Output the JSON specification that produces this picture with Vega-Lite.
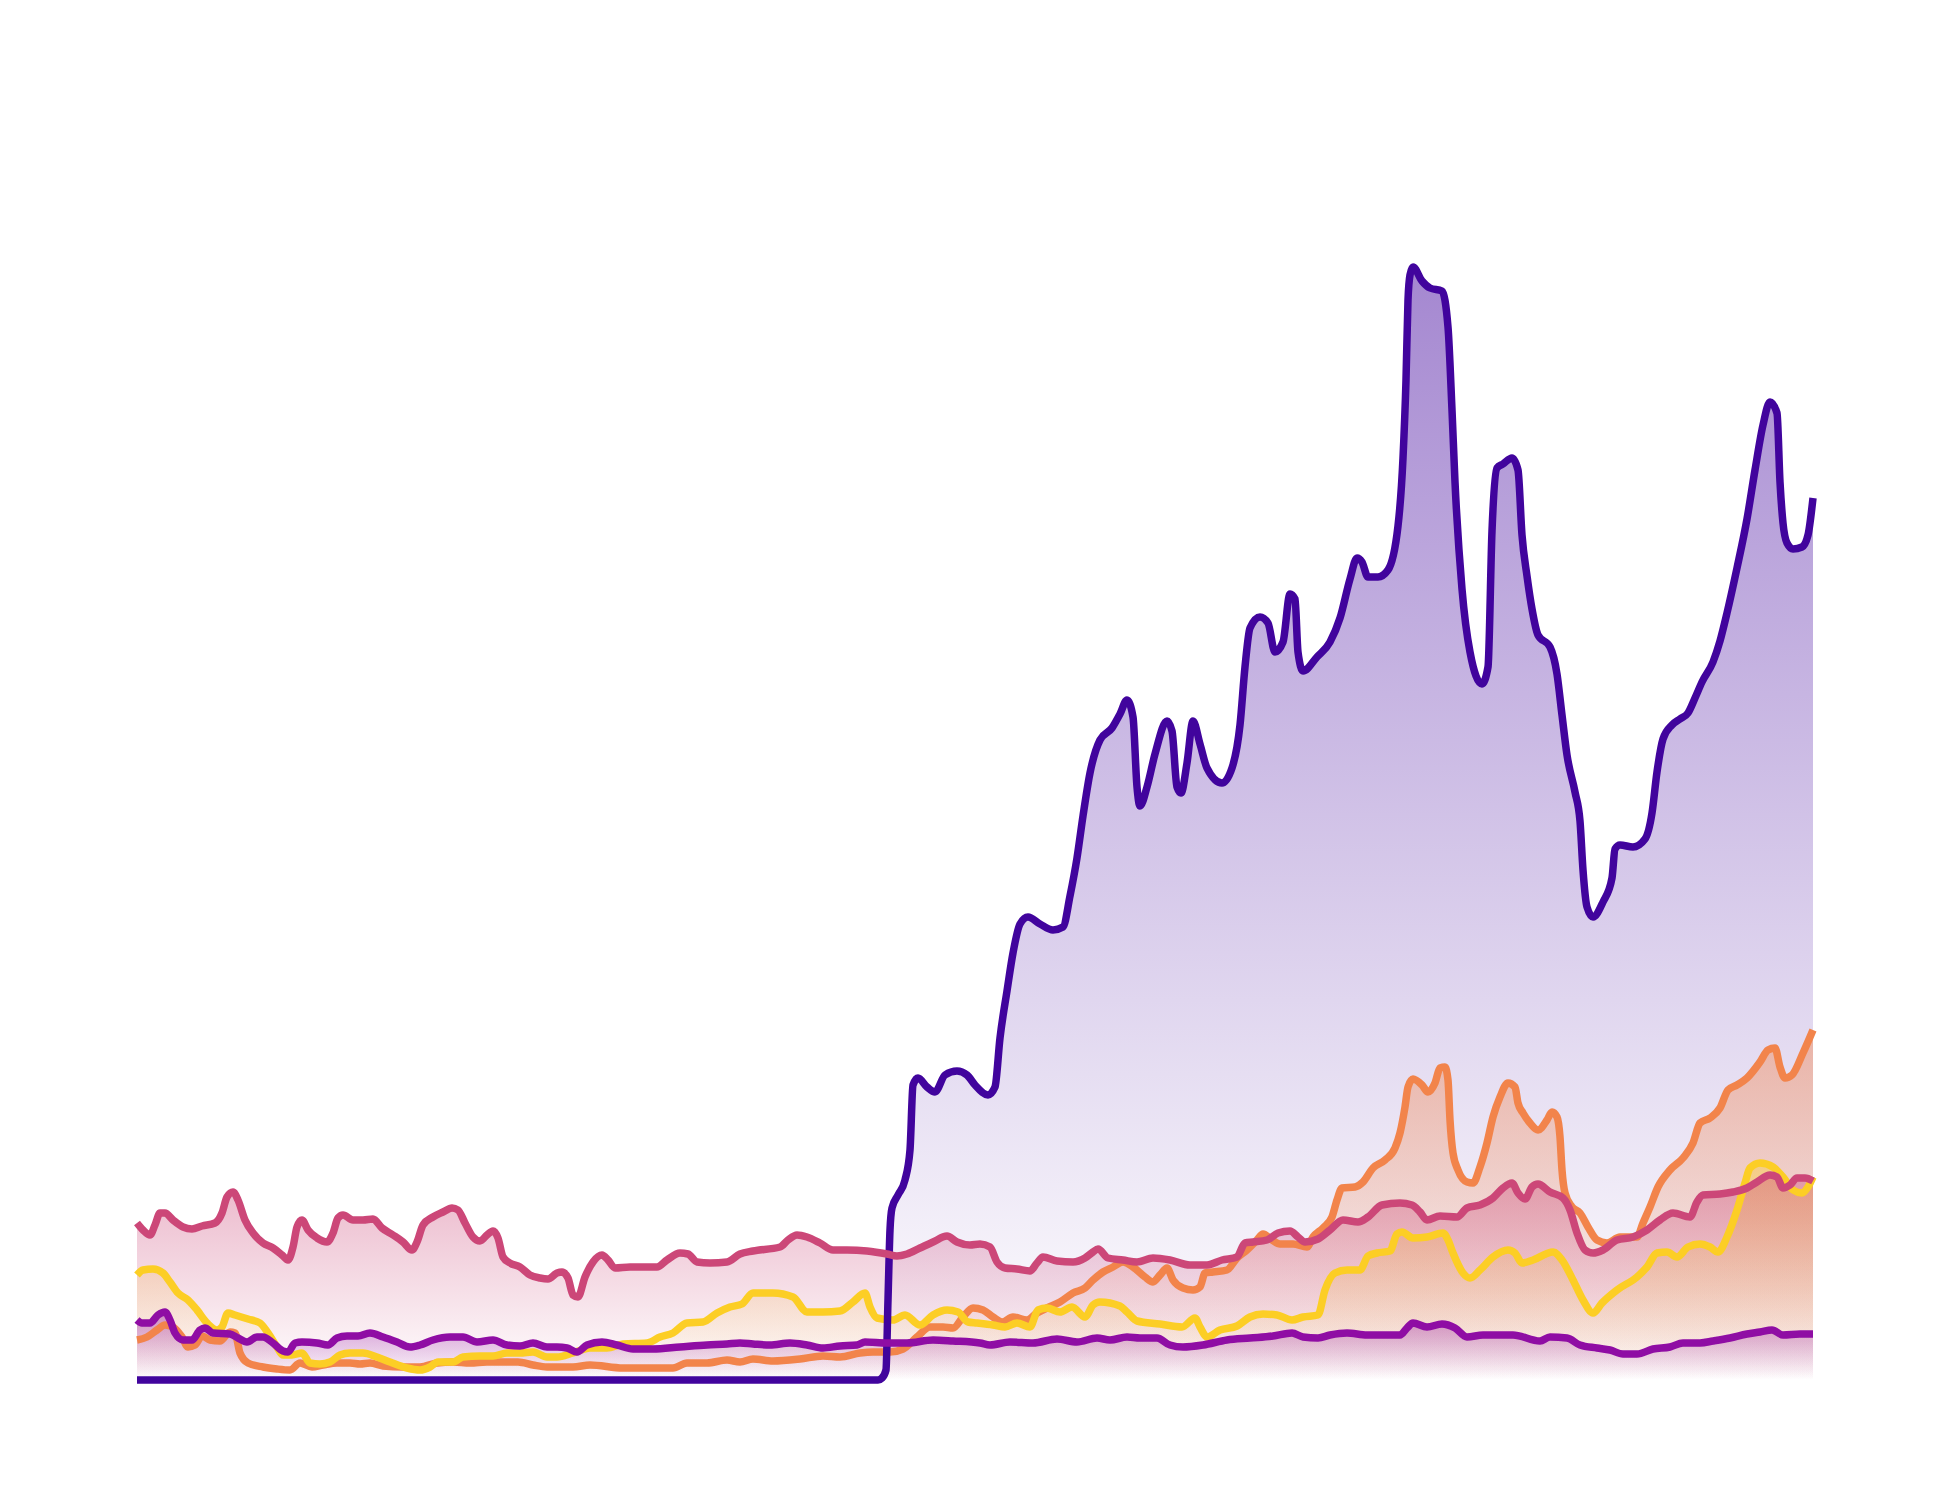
{
"$schema":"https://vega.github.io/schema/vega-lite/v6.json",
"width":1676,"height":1200,
"autosize":{"type":"none"},
"padding":{"left":137,"top":180,"right":137,"bottom":120},
"background":"white",
"config":{"view":{"stroke":null}},
"datasets":{
"P":[{"d":0,"v":0},{"d":741,"v":0},{"d":745,"v":2},{"d":749,"v":10},{"d":751,"v":80},{"d":753,"v":150},{"d":755,"v":172},{"d":761,"v":185},{"d":768,"v":200},{"d":773,"v":230},{"d":776,"v":295},{"d":781,"v":302},{"d":790,"v":293},{"d":798,"v":288},{"d":808,"v":305},{"d":820,"v":309},{"d":830,"v":305},{"d":838,"v":295},{"d":851,"v":285},{"d":858,"v":293},{"d":863,"v":342},{"d":870,"v":389},{"d":876,"v":427},{"d":883,"v":456},{"d":891,"v":463},{"d":903,"v":456},{"d":916,"v":450},{"d":926,"v":453},{"d":933,"v":484},{"d":940,"v":522},{"d":946,"v":564},{"d":953,"v":607},{"d":963,"v":640},{"d":975,"v":652},{"d":983,"v":666},{"d":990,"v":680},{"d":996,"v":663},{"d":1000,"v":593},{"d":1003,"v":574},{"d":1010,"v":593},{"d":1018,"v":626},{"d":1030,"v":659},{"d":1035,"v":649},{"d":1040,"v":593},{"d":1044,"v":587},{"d":1050,"v":617},{"d":1056,"v":659},{"d":1063,"v":636},{"d":1070,"v":612},{"d":1085,"v":597},{"d":1095,"v":612},{"d":1103,"v":655},{"d":1108,"v":713},{"d":1113,"v":752},{"d":1123,"v":763},{"d":1131,"v":757},{"d":1138,"v":728},{"d":1146,"v":738},{"d":1153,"v":786},{"d":1158,"v":781},{"d":1161,"v":728},{"d":1166,"v":709},{"d":1180,"v":723},{"d":1193,"v":738},{"d":1203,"v":762},{"d":1213,"v":801},{"d":1220,"v":822},{"d":1225,"v":818},{"d":1231,"v":803},{"d":1241,"v":803},{"d":1251,"v":810},{"d":1261,"v":854},{"d":1266,"v":922},{"d":1269,"v":1000},{"d":1271,"v":1080},{"d":1273,"v":1105},{"d":1276,"v":1113},{"d":1285,"v":1099},{"d":1293,"v":1092},{"d":1305,"v":1089},{"d":1311,"v":1053},{"d":1315,"v":970},{"d":1318,"v":898},{"d":1325,"v":791},{"d":1333,"v":728},{"d":1345,"v":696},{"d":1351,"v":713},{"d":1355,"v":849},{"d":1360,"v":912},{"d":1366,"v":916},{"d":1375,"v":922},{"d":1381,"v":910},{"d":1385,"v":845},{"d":1390,"v":804},{"d":1395,"v":771},{"d":1401,"v":745},{"d":1413,"v":733},{"d":1420,"v":706},{"d":1425,"v":665},{"d":1430,"v":625},{"d":1438,"v":588},{"d":1443,"v":559},{"d":1446,"v":510},{"d":1450,"v":473},{"d":1456,"v":463},{"d":1466,"v":478},{"d":1475,"v":502},{"d":1478,"v":531},{"d":1483,"v":535},{"d":1496,"v":533},{"d":1508,"v":541},{"d":1515,"v":567},{"d":1520,"v":608},{"d":1526,"v":641},{"d":1535,"v":655},{"d":1543,"v":661},{"d":1551,"v":667},{"d":1558,"v":682},{"d":1565,"v":698},{"d":1576,"v":718},{"d":1583,"v":739},{"d":1590,"v":767},{"d":1600,"v":812},{"d":1610,"v":861},{"d":1618,"v":910},{"d":1626,"v":955},{"d":1633,"v":978},{"d":1640,"v":967},{"d":1643,"v":898},{"d":1646,"v":857},{"d":1650,"v":837},{"d":1656,"v":831},{"d":1665,"v":833},{"d":1671,"v":845},{"d":1676,"v":882}],
"C":[{"d":0,"v":157},{"d":6,"v":150},{"d":13,"v":145},{"d":18,"v":155},{"d":23,"v":167},{"d":28,"v":167},{"d":36,"v":160},{"d":46,"v":153},{"d":55,"v":151},{"d":65,"v":154},{"d":78,"v":157},{"d":85,"v":167},{"d":90,"v":183},{"d":96,"v":188},{"d":101,"v":180},{"d":108,"v":160},{"d":116,"v":147},{"d":126,"v":137},{"d":136,"v":132},{"d":145,"v":125},{"d":151,"v":120},{"d":156,"v":133},{"d":160,"v":153},{"d":165,"v":160},{"d":171,"v":150},{"d":180,"v":142},{"d":190,"v":138},{"d":196,"v":147},{"d":201,"v":162},{"d":206,"v":165},{"d":216,"v":160},{"d":226,"v":160},{"d":236,"v":161},{"d":245,"v":152},{"d":256,"v":145},{"d":266,"v":138},{"d":275,"v":130},{"d":280,"v":138},{"d":286,"v":155},{"d":296,"v":163},{"d":306,"v":168},{"d":315,"v":172},{"d":321,"v":170},{"d":328,"v":157},{"d":336,"v":143},{"d":343,"v":139},{"d":350,"v":145},{"d":356,"v":149},{"d":361,"v":142},{"d":366,"v":123},{"d":373,"v":117},{"d":383,"v":113},{"d":393,"v":105},{"d":403,"v":102},{"d":411,"v":101},{"d":420,"v":107},{"d":425,"v":108},{"d":431,"v":102},{"d":436,"v":85},{"d":441,"v":83},{"d":448,"v":103},{"d":456,"v":118},{"d":465,"v":125},{"d":471,"v":120},{"d":478,"v":112},{"d":493,"v":113},{"d":520,"v":113},{"d":530,"v":120},{"d":543,"v":127},{"d":551,"v":126},{"d":560,"v":118},{"d":573,"v":117},{"d":590,"v":118},{"d":603,"v":126},{"d":616,"v":129},{"d":643,"v":133},{"d":651,"v":140},{"d":660,"v":145},{"d":670,"v":143},{"d":683,"v":137},{"d":696,"v":130},{"d":710,"v":130},{"d":730,"v":129},{"d":750,"v":126},{"d":760,"v":124},{"d":770,"v":126},{"d":783,"v":132},{"d":796,"v":138},{"d":810,"v":144},{"d":820,"v":138},{"d":833,"v":135},{"d":843,"v":136},{"d":853,"v":133},{"d":860,"v":118},{"d":868,"v":112},{"d":880,"v":111},{"d":893,"v":109},{"d":900,"v":117},{"d":906,"v":123},{"d":920,"v":119},{"d":936,"v":118},{"d":948,"v":122},{"d":956,"v":128},{"d":961,"v":131},{"d":971,"v":122},{"d":986,"v":120},{"d":1000,"v":118},{"d":1016,"v":122},{"d":1033,"v":120},{"d":1053,"v":115},{"d":1070,"v":115},{"d":1085,"v":120},{"d":1100,"v":123},{"d":1108,"v":137},{"d":1116,"v":138},{"d":1130,"v":140},{"d":1141,"v":147},{"d":1153,"v":149},{"d":1161,"v":143},{"d":1168,"v":138},{"d":1181,"v":141},{"d":1193,"v":150},{"d":1206,"v":160},{"d":1221,"v":158},{"d":1231,"v":163},{"d":1245,"v":175},{"d":1263,"v":177},{"d":1275,"v":175},{"d":1283,"v":168},{"d":1290,"v":160},{"d":1303,"v":164},{"d":1320,"v":163},{"d":1330,"v":172},{"d":1343,"v":175},{"d":1356,"v":182},{"d":1366,"v":192},{"d":1375,"v":197},{"d":1381,"v":187},{"d":1388,"v":181},{"d":1395,"v":193},{"d":1401,"v":196},{"d":1413,"v":188},{"d":1426,"v":182},{"d":1433,"v":170},{"d":1440,"v":147},{"d":1448,"v":130},{"d":1456,"v":127},{"d":1466,"v":130},{"d":1480,"v":140},{"d":1496,"v":143},{"d":1510,"v":150},{"d":1523,"v":160},{"d":1536,"v":167},{"d":1553,"v":163},{"d":1560,"v":178},{"d":1566,"v":185},{"d":1583,"v":186},{"d":1596,"v":188},{"d":1610,"v":192},{"d":1620,"v":198},{"d":1633,"v":205},{"d":1640,"v":203},{"d":1646,"v":192},{"d":1653,"v":195},{"d":1660,"v":202},{"d":1668,"v":202},{"d":1676,"v":199}],
"O":[{"d":0,"v":40},{"d":10,"v":43},{"d":20,"v":50},{"d":28,"v":55},{"d":36,"v":53},{"d":45,"v":43},{"d":51,"v":33},{"d":58,"v":35},{"d":65,"v":44},{"d":73,"v":40},{"d":83,"v":39},{"d":93,"v":48},{"d":98,"v":47},{"d":103,"v":27},{"d":111,"v":17},{"d":126,"v":13},{"d":140,"v":11},{"d":153,"v":10},{"d":163,"v":17},{"d":175,"v":13},{"d":186,"v":15},{"d":200,"v":17},{"d":213,"v":17},{"d":223,"v":16},{"d":233,"v":17},{"d":246,"v":14},{"d":266,"v":13},{"d":283,"v":13},{"d":300,"v":17},{"d":316,"v":18},{"d":333,"v":17},{"d":350,"v":18},{"d":366,"v":18},{"d":381,"v":18},{"d":396,"v":15},{"d":410,"v":13},{"d":436,"v":13},{"d":453,"v":15},{"d":486,"v":12},{"d":536,"v":12},{"d":550,"v":17},{"d":570,"v":17},{"d":590,"v":20},{"d":603,"v":18},{"d":616,"v":21},{"d":636,"v":19},{"d":663,"v":21},{"d":686,"v":24},{"d":703,"v":23},{"d":723,"v":27},{"d":736,"v":28},{"d":753,"v":28},{"d":766,"v":31},{"d":780,"v":43},{"d":793,"v":53},{"d":806,"v":53},{"d":816,"v":52},{"d":826,"v":63},{"d":836,"v":72},{"d":846,"v":70},{"d":856,"v":63},{"d":865,"v":58},{"d":876,"v":63},{"d":890,"v":60},{"d":900,"v":67},{"d":910,"v":72},{"d":923,"v":78},{"d":936,"v":87},{"d":948,"v":92},{"d":956,"v":100},{"d":966,"v":108},{"d":976,"v":113},{"d":986,"v":118},{"d":996,"v":113},{"d":1008,"v":103},{"d":1016,"v":98},{"d":1023,"v":105},{"d":1030,"v":112},{"d":1036,"v":100},{"d":1046,"v":92},{"d":1056,"v":90},{"d":1063,"v":93},{"d":1068,"v":107},{"d":1076,"v":108},{"d":1090,"v":110},{"d":1100,"v":122},{"d":1110,"v":130},{"d":1120,"v":140},{"d":1126,"v":146},{"d":1135,"v":140},{"d":1143,"v":136},{"d":1156,"v":136},{"d":1170,"v":133},{"d":1176,"v":143},{"d":1186,"v":152},{"d":1195,"v":163},{"d":1200,"v":180},{"d":1205,"v":192},{"d":1218,"v":193},{"d":1226,"v":198},{"d":1236,"v":212},{"d":1248,"v":220},{"d":1258,"v":232},{"d":1263,"v":247},{"d":1268,"v":273},{"d":1271,"v":293},{"d":1276,"v":301},{"d":1285,"v":295},{"d":1291,"v":288},{"d":1298,"v":297},{"d":1303,"v":312},{"d":1308,"v":313},{"d":1311,"v":300},{"d":1313,"v":260},{"d":1316,"v":227},{"d":1321,"v":210},{"d":1330,"v":198},{"d":1336,"v":197},{"d":1343,"v":213},{"d":1350,"v":237},{"d":1356,"v":263},{"d":1363,"v":283},{"d":1371,"v":297},{"d":1378,"v":293},{"d":1381,"v":277},{"d":1386,"v":267},{"d":1393,"v":257},{"d":1401,"v":250},{"d":1410,"v":260},{"d":1415,"v":268},{"d":1420,"v":263},{"d":1423,"v":243},{"d":1425,"v":210},{"d":1428,"v":187},{"d":1435,"v":173},{"d":1443,"v":167},{"d":1451,"v":153},{"d":1460,"v":140},{"d":1470,"v":137},{"d":1483,"v":143},{"d":1500,"v":143},{"d":1506,"v":157},{"d":1513,"v":173},{"d":1521,"v":193},{"d":1533,"v":210},{"d":1546,"v":222},{"d":1556,"v":237},{"d":1563,"v":257},{"d":1573,"v":262},{"d":1583,"v":272},{"d":1591,"v":290},{"d":1600,"v":295},{"d":1610,"v":302},{"d":1623,"v":318},{"d":1631,"v":330},{"d":1638,"v":332},{"d":1643,"v":313},{"d":1648,"v":302},{"d":1655,"v":305},{"d":1666,"v":327},{"d":1676,"v":350}],
"Y":[{"d":0,"v":105},{"d":6,"v":110},{"d":16,"v":111},{"d":26,"v":107},{"d":33,"v":98},{"d":41,"v":87},{"d":51,"v":80},{"d":60,"v":70},{"d":70,"v":57},{"d":80,"v":50},{"d":85,"v":53},{"d":91,"v":67},{"d":98,"v":65},{"d":111,"v":61},{"d":123,"v":57},{"d":131,"v":47},{"d":140,"v":33},{"d":146,"v":25},{"d":155,"v":25},{"d":165,"v":27},{"d":173,"v":17},{"d":183,"v":16},{"d":193,"v":18},{"d":203,"v":25},{"d":213,"v":27},{"d":226,"v":27},{"d":240,"v":23},{"d":253,"v":18},{"d":270,"v":12},{"d":283,"v":10},{"d":293,"v":13},{"d":301,"v":18},{"d":316,"v":18},{"d":326,"v":23},{"d":343,"v":24},{"d":356,"v":24},{"d":370,"v":27},{"d":383,"v":27},{"d":396,"v":28},{"d":410,"v":23},{"d":420,"v":23},{"d":436,"v":27},{"d":453,"v":32},{"d":470,"v":32},{"d":486,"v":36},{"d":510,"v":37},{"d":523,"v":43},{"d":536,"v":47},{"d":550,"v":57},{"d":566,"v":58},{"d":580,"v":67},{"d":593,"v":73},{"d":605,"v":76},{"d":616,"v":87},{"d":636,"v":87},{"d":656,"v":83},{"d":670,"v":68},{"d":686,"v":68},{"d":703,"v":69},{"d":716,"v":78},{"d":728,"v":87},{"d":733,"v":73},{"d":740,"v":62},{"d":756,"v":60},{"d":768,"v":65},{"d":783,"v":55},{"d":796,"v":65},{"d":810,"v":70},{"d":821,"v":68},{"d":831,"v":58},{"d":840,"v":57},{"d":856,"v":55},{"d":868,"v":53},{"d":880,"v":57},{"d":893,"v":53},{"d":901,"v":70},{"d":910,"v":72},{"d":923,"v":68},{"d":935,"v":73},{"d":948,"v":63},{"d":956,"v":75},{"d":963,"v":78},{"d":983,"v":74},{"d":990,"v":68},{"d":1000,"v":59},{"d":1023,"v":56},{"d":1045,"v":53},{"d":1058,"v":62},{"d":1063,"v":53},{"d":1070,"v":43},{"d":1083,"v":50},{"d":1100,"v":54},{"d":1113,"v":63},{"d":1126,"v":66},{"d":1140,"v":65},{"d":1155,"v":60},{"d":1166,"v":63},{"d":1181,"v":65},{"d":1188,"v":90},{"d":1198,"v":107},{"d":1210,"v":110},{"d":1223,"v":110},{"d":1231,"v":124},{"d":1240,"v":127},{"d":1253,"v":129},{"d":1260,"v":146},{"d":1265,"v":148},{"d":1276,"v":142},{"d":1290,"v":143},{"d":1306,"v":147},{"d":1311,"v":140},{"d":1316,"v":127},{"d":1326,"v":107},{"d":1333,"v":102},{"d":1343,"v":110},{"d":1356,"v":123},{"d":1371,"v":130},{"d":1378,"v":127},{"d":1385,"v":117},{"d":1396,"v":120},{"d":1416,"v":128},{"d":1425,"v":120},{"d":1436,"v":100},{"d":1446,"v":80},{"d":1456,"v":67},{"d":1465,"v":77},{"d":1480,"v":90},{"d":1500,"v":103},{"d":1510,"v":113},{"d":1520,"v":127},{"d":1530,"v":128},{"d":1540,"v":123},{"d":1551,"v":133},{"d":1563,"v":136},{"d":1573,"v":133},{"d":1581,"v":128},{"d":1590,"v":143},{"d":1600,"v":170},{"d":1608,"v":197},{"d":1613,"v":212},{"d":1623,"v":217},{"d":1636,"v":213},{"d":1646,"v":203},{"d":1656,"v":190},{"d":1665,"v":187},{"d":1671,"v":193},{"d":1676,"v":203}],
"M":[{"d":0,"v":60},{"d":5,"v":57},{"d":13,"v":57},{"d":21,"v":65},{"d":28,"v":68},{"d":33,"v":60},{"d":38,"v":47},{"d":46,"v":40},{"d":55,"v":40},{"d":63,"v":50},{"d":68,"v":52},{"d":76,"v":47},{"d":93,"v":46},{"d":101,"v":42},{"d":110,"v":38},{"d":120,"v":43},{"d":126,"v":43},{"d":136,"v":37},{"d":146,"v":29},{"d":151,"v":28},{"d":158,"v":37},{"d":165,"v":38},{"d":180,"v":37},{"d":191,"v":35},{"d":200,"v":42},{"d":210,"v":44},{"d":221,"v":44},{"d":233,"v":47},{"d":246,"v":43},{"d":260,"v":38},{"d":273,"v":33},{"d":283,"v":35},{"d":296,"v":40},{"d":313,"v":43},{"d":326,"v":43},{"d":340,"v":38},{"d":356,"v":40},{"d":370,"v":35},{"d":383,"v":34},{"d":396,"v":37},{"d":410,"v":33},{"d":420,"v":33},{"d":430,"v":32},{"d":440,"v":28},{"d":450,"v":35},{"d":465,"v":38},{"d":480,"v":35},{"d":496,"v":31},{"d":516,"v":31},{"d":543,"v":33},{"d":570,"v":35},{"d":590,"v":36},{"d":603,"v":37},{"d":616,"v":36},{"d":633,"v":35},{"d":653,"v":37},{"d":670,"v":35},{"d":686,"v":32},{"d":703,"v":34},{"d":720,"v":35},{"d":728,"v":38},{"d":750,"v":37},{"d":770,"v":37},{"d":796,"v":40},{"d":816,"v":39},{"d":843,"v":37},{"d":853,"v":35},{"d":873,"v":38},{"d":896,"v":37},{"d":920,"v":41},{"d":940,"v":38},{"d":960,"v":42},{"d":973,"v":40},{"d":990,"v":43},{"d":1003,"v":42},{"d":1020,"v":42},{"d":1033,"v":35},{"d":1046,"v":33},{"d":1066,"v":35},{"d":1090,"v":40},{"d":1113,"v":42},{"d":1136,"v":44},{"d":1155,"v":47},{"d":1166,"v":43},{"d":1181,"v":42},{"d":1193,"v":45},{"d":1210,"v":47},{"d":1230,"v":45},{"d":1250,"v":45},{"d":1263,"v":45},{"d":1270,"v":52},{"d":1276,"v":57},{"d":1290,"v":53},{"d":1305,"v":56},{"d":1318,"v":52},{"d":1330,"v":43},{"d":1346,"v":45},{"d":1376,"v":45},{"d":1403,"v":39},{"d":1413,"v":43},{"d":1430,"v":42},{"d":1443,"v":35},{"d":1460,"v":32},{"d":1473,"v":30},{"d":1486,"v":26},{"d":1500,"v":26},{"d":1516,"v":31},{"d":1533,"v":33},{"d":1546,"v":37},{"d":1563,"v":37},{"d":1576,"v":39},{"d":1593,"v":42},{"d":1610,"v":46},{"d":1623,"v":48},{"d":1635,"v":50},{"d":1646,"v":45},{"d":1663,"v":46},{"d":1676,"v":46}]
},
"encoding":{
"x":{"field":"d","type":"quantitative","axis":null,"scale":{"domain":[0,1676],"nice":false,"zero":false}},
"y":{"field":"v","type":"quantitative","axis":null,"scale":{"domain":[0,1200],"nice":false}}
},
"layer":[
{"data":{"name":"P"},"mark":{"type":"area","interpolate":"monotone","fill":{"gradient":"linear","x1":0,"y1":0,"x2":0,"y2":1,"stops":[{"offset":0,"color":"rgba(65,4,157,0.48)"},{"offset":1,"color":"rgba(65,4,157,0.0)"}]}}},
{"data":{"name":"O"},"mark":{"type":"area","interpolate":"monotone","fill":{"gradient":"linear","x1":0,"y1":0,"x2":0,"y2":1,"stops":[{"offset":0,"color":"rgba(242,132,75,0.45)"},{"offset":1,"color":"rgba(242,132,75,0.0)"}]}}},
{"data":{"name":"Y"},"mark":{"type":"area","interpolate":"monotone","fill":{"gradient":"linear","x1":0,"y1":0,"x2":0,"y2":1,"stops":[{"offset":0,"color":"rgba(252,206,37,0.4)"},{"offset":1,"color":"rgba(252,206,37,0.0)"}]}}},
{"data":{"name":"C"},"mark":{"type":"area","interpolate":"monotone","fill":{"gradient":"linear","x1":0,"y1":0,"x2":0,"y2":1,"stops":[{"offset":0,"color":"rgba(204,71,120,0.4)"},{"offset":1,"color":"rgba(204,71,120,0.0)"}]}}},
{"data":{"name":"M"},"mark":{"type":"area","interpolate":"monotone","fill":{"gradient":"linear","x1":0,"y1":0,"x2":0,"y2":1,"stops":[{"offset":0,"color":"rgba(143,13,164,0.4)"},{"offset":1,"color":"rgba(143,13,164,0.0)"}]}}},
{"data":{"name":"O"},"mark":{"type":"line","interpolate":"monotone","stroke":"#f2844b","strokeWidth":7.5,"strokeJoin":"round"}},
{"data":{"name":"Y"},"mark":{"type":"line","interpolate":"monotone","stroke":"#fcce25","strokeWidth":7.5,"strokeJoin":"round"}},
{"data":{"name":"P"},"mark":{"type":"line","interpolate":"monotone","stroke":"#41049d","strokeWidth":7.5,"strokeJoin":"round"}},
{"data":{"name":"C"},"mark":{"type":"line","interpolate":"monotone","stroke":"#cc4778","strokeWidth":7.5,"strokeJoin":"round"}},
{"data":{"name":"M"},"mark":{"type":"line","interpolate":"monotone","stroke":"#8f0da4","strokeWidth":7.5,"strokeJoin":"round"}}
]
}
